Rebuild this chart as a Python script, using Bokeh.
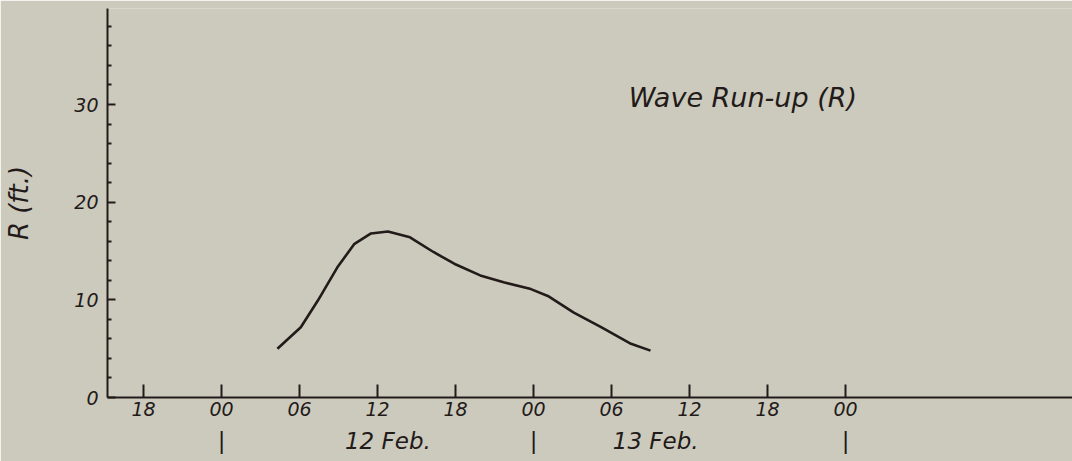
from bokeh.plotting import figure
from bokeh.models import FixedTicker, LinearAxis, Label, Range1d
from bokeh.embed import file_html
from bokeh.resources import INLINE

# ---- data (hours counted from 00h 12 Feb) ----
hours = [4.3, 6.1, 7.4, 8.9, 10.2, 11.5, 12.8, 14.5, 16.3, 17.9, 19.9, 21.7,
         23.8, 25.1, 27.1, 29.2, 31.5, 33.0]
runup = [5.0, 7.2, 9.9, 13.3, 15.7, 16.8, 17.0, 16.4, 14.9, 13.7, 12.5, 11.8,
         11.1, 10.4, 8.7, 7.2, 5.5, 4.8]

x_ticks = [-6, 0, 6, 12, 18, 24, 30, 36, 42, 48]
x_tick_labels = ["18", "00", "06", "12", "18", "00", "06", "12", "18", "00"]
date_ticks = [0, 12.8, 24, 33.4, 48]
date_labels = ["|", "12 Feb.", "|", "13 Feb.", "|"]
y_ticks = [0, 10, 20, 30]
y_tick_labels = ["0", "10", "20", "30"]
y_minor = [2, 4, 6, 8, 12, 14, 16, 18, 22, 24, 26, 28, 32, 34, 36, 38]

title_text = "Wave Run-up (R)"
y_label = "R (ft.)"

BG = "#cccabc"
INK = "#231a1a"
FONT = "DejaVu Sans"

p = figure(width=1072, height=461, output_backend="svg", toolbar_location=None,
           x_range=Range1d(-8.77, 65.46), y_range=Range1d(0, 39.83),
           min_border_left=107, min_border_right=0, min_border_top=8,
           min_border_bottom=64, x_axis_type=None, y_axis_type=None)
p.background_fill_color = BG
p.border_fill_color = BG
p.outline_line_color = None
p.grid.visible = False

# y axis
ya = LinearAxis(ticker=FixedTicker(ticks=y_ticks, minor_ticks=y_minor),
                major_label_overrides={v: s for v, s in zip(y_ticks, y_tick_labels)})
ya.axis_line_color = INK
ya.axis_line_width = 2
ya.major_tick_in = 8
ya.major_tick_out = 0
ya.minor_tick_in = 4
ya.minor_tick_out = 0
ya.major_tick_line_color = INK
ya.major_tick_line_width = 2
ya.minor_tick_line_color = INK
ya.minor_tick_line_width = 2
ya.major_label_standoff = 9
ya.major_label_text_font = FONT
ya.major_label_text_font_style = "italic"
ya.major_label_text_font_size = "19px"
ya.major_label_text_color = INK
ya.axis_label = y_label
ya.axis_label_text_font = FONT
ya.axis_label_text_font_style = "italic"
ya.axis_label_text_font_size = "26px"
ya.axis_label_text_color = INK
ya.axis_label_standoff = 37
p.add_layout(ya, "left")

# x axis (hours)
xa = LinearAxis(ticker=FixedTicker(ticks=x_ticks, minor_ticks=[]),
                major_label_overrides={v: s for v, s in zip(x_ticks, x_tick_labels)})
xa.axis_line_color = INK
xa.axis_line_width = 2
xa.major_tick_in = 13
xa.major_tick_out = 0
xa.minor_tick_in = 0
xa.minor_tick_out = 0
xa.major_tick_line_color = INK
xa.major_tick_line_width = 2
xa.major_label_standoff = 4
xa.major_label_text_font = FONT
xa.major_label_text_font_style = "italic"
xa.major_label_text_font_size = "19px"
xa.major_label_text_color = INK
p.add_layout(xa, "below")

# x axis (dates)
da = LinearAxis(ticker=FixedTicker(ticks=date_ticks, minor_ticks=[]),
                major_label_overrides={v: s for v, s in zip(date_ticks, date_labels)})
da.axis_line_color = None
da.major_tick_line_color = None
da.minor_tick_line_color = None
da.major_tick_in = 0
da.major_tick_out = 0
da.major_label_standoff = 9
da.major_label_text_font = FONT
da.major_label_text_font_style = "italic"
da.major_label_text_font_size = "23px"
da.major_label_text_color = INK
p.add_layout(da, "below")

# curve
p.line(hours, runup, line_color=INK, line_width=2.6)

# title inside plot
p.add_layout(Label(x=40.1, y=30.7, text=title_text, text_align="center",
                   text_baseline="middle", text_font=FONT, text_font_style="italic",
                   text_font_size="27px", text_color=INK))

html = file_html(p, INLINE)
open("out.html", "w").write(html)
